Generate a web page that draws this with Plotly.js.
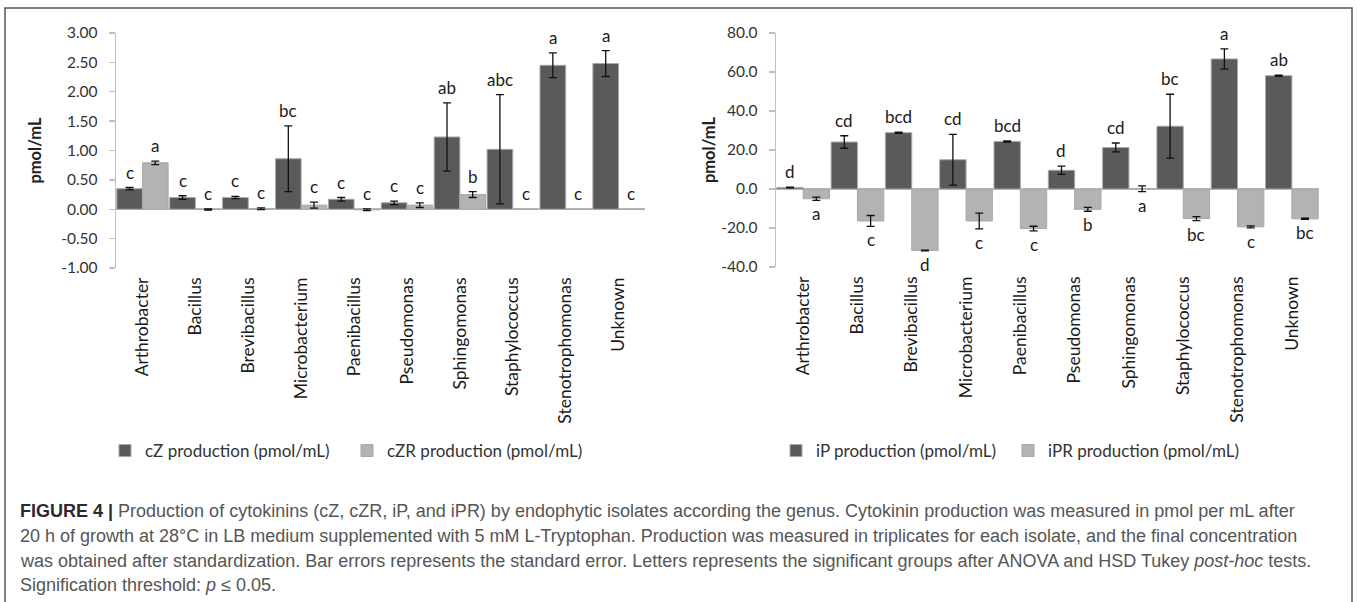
<!DOCTYPE html>
<html><head><meta charset="utf-8">
<script src="https://cdn.plot.ly/plotly-3.0.1.min.js"></script>
<style>html,body{margin:0;padding:0;background:#fff;}#chart{width:1357px;height:602px;}</style>
</head><body><div id="chart"></div>
<script>
const genera = ['Arthrobacter','Bacillus','Brevibacillus','Microbacterium','Paenibacillus','Pseudomonas','Sphingomonas','Staphylococcus','Stenotrophomonas','Unknown'];

const cZ      = [0.35, 0.20, 0.20, 0.86, 0.17, 0.11, 1.23, 1.02, 2.45, 2.48];
const cZErr   = [0.02, 0.03, 0.02, 0.56, 0.03, 0.03, 0.58, 0.93, 0.21, 0.22];
const cZR     = [0.79, -0.005, 0.01, 0.07, -0.01, 0.07, 0.25, 0, 0, 0];
const cZRErr  = [0.03, 0.01, 0.015, 0.05, 0.015, 0.04, 0.05, NaN, NaN, NaN];
const iP      = [0.8, 24.1, 28.9, 15.0, 24.4, 9.6, 21.3, 32.2, 66.7, 58.1];
const iPErr   = [0.2, 3.2, 0.3, 13.0, 0.3, 2.1, 2.3, 16.4, 5.2, 0.3];
const iPR     = [-5.0, -16.4, -31.5, -16.4, -20.3, -10.4, 0.15, -15.2, -19.4, -15.3];
const iPRErr  = [0.8, 2.8, 0.2, 4.0, 1.2, 1.0, 1.5, 1.0, 0.5, 0.3];

const cZLetters  = ['c','c','c','bc','c','c','ab','abc','a','a'];
const cZRLetters = ['a','c','c','c','c','c','b','c','c','c'];
const iPLetters  = ['d','cd','bcd','cd','bcd','d','cd','bc','a','ab'];
const iPRLetters = ['a','c','d','c','c','b','a','bc','c','bc'];

const leftTickVals  = [-1, -0.5, 0, 0.5, 1, 1.5, 2, 2.5, 3];
const leftTickText  = ['-1.00','-0.50','0.00','0.50','1.00','1.50','2.00','2.50','3.00'];
const rightTickVals = [-40, -20, 0, 20, 40, 60, 80];
const rightTickText = ['-40.0','-20.0','0.0','20.0','40.0','60.0','80.0'];

const seriesNames = ['cZ production (pmol/mL)','cZR production (pmol/mL)','iP production (pmol/mL)','iPR production (pmol/mL)'];

const captionLines = [
  '<b><span style="color:#2b2b2b">FIGURE 4 |</span></b> Production of cytokinins (cZ, cZR, iP, and iPR) by endophytic isolates according the genus. Cytokinin production was measured in pmol per mL after',
  '20 h of growth at 28°C in LB medium supplemented with 5 mM L-Tryptophan. Production was measured in triplicates for each isolate, and the final concentration',
  'was obtained after standardization. Bar errors represents the standard error. Letters represents the significant groups after ANOVA and HSD Tukey <i>post-hoc</i> tests.',
  'Signification threshold: <i>p</i> ≤ 0.05.'
];

const W = 1357, H = 602;
const px = v => v / W;
const py = v => 1 - v / H;

const DARK = '#5a5a5a', LIGHT = '#b3b3b3', EDGE = '#a8a8a8';
const FONT = 'Lato, "Open Sans", sans-serif';
const BARGAP = 0.03;
const half = (1 - BARGAP) / 4;

function barTrace(name, y, err, color, xa, ya, legend) {
  return {
    type: 'bar', name: name, x: genera, y: y, xaxis: xa, yaxis: ya, legend: legend,
    marker: {color: color, line: {color: EDGE, width: 1}},
    error_y: {type: 'data', array: err, visible: true, color: '#111', thickness: 1.3, width: 4},
    hoverinfo: 'x+y'
  };
}

const data = [
  barTrace(seriesNames[0], cZ, cZErr, DARK, 'x', 'y', 'legend'),
  barTrace(seriesNames[1], cZR, cZRErr, LIGHT, 'x', 'y', 'legend'),
  barTrace(seriesNames[2], iP, iPErr, DARK, 'x2', 'y2', 'legend2'),
  barTrace(seriesNames[3], iPR, iPRErr, LIGHT, 'x2', 'y2', 'legend2')
];

const annotations = [];
function addLetters(letters, vals, errs, side, xref, yref, below) {
  letters.forEach((t, i) => {
    const e = isNaN(errs[i]) ? 0 : errs[i];
    annotations.push({
      xref: xref, yref: yref, x: i + side * half,
      y: below ? vals[i] - e : vals[i] + e,
      text: t, showarrow: false,
      yanchor: below ? 'top' : 'bottom', yshift: below ? -1 : 3,
      font: {family: FONT, size: 17, color: '#1a1a1a'}
    });
  });
}
addLetters(cZLetters, cZ, cZErr, -1, 'x', 'y', false);
addLetters(cZRLetters, cZR, cZRErr, 1, 'x', 'y', false);
addLetters(iPLetters, iP, iPErr, -1, 'x2', 'y2', false);
addLetters(iPRLetters, iPR, iPRErr, 1, 'x2', 'y2', true);

const capY = [511, 536, 561, 585];
captionLines.forEach((t, i) => {
  annotations.push({
    xref: 'paper', yref: 'paper', x: px(18), y: py(capY[i]), xanchor: 'left', yanchor: 'middle',
    text: t, showarrow: false, align: 'left',
    font: {family: '"Liberation Sans", Arial, sans-serif', size: 18, color: '#555'}
  });
});

const tickFont = {family: FONT, size: 15.5, color: '#333'};
const catFont = {family: FONT, size: 17.5, color: '#1a1a1a'};

function yAxis(domainTop, domainBot, range, vals, text, anchor, standoff) {
  return {
    domain: [py(domainBot), py(domainTop)], range: range, anchor: anchor,
    tickmode: 'array', tickvals: vals, ticktext: text, tickfont: tickFont,
    showline: true, linecolor: '#bfbfbf', linewidth: 1.3,
    ticks: 'outside', ticklen: 6, tickcolor: '#bfbfbf', tickwidth: 1.3,
    ticklabelstandoff: 8,
    showgrid: false, zeroline: true, zerolinecolor: '#bfbfbf', zerolinewidth: 1.6,
    title: {text: '<b>pmol/mL</b>', font: {family: FONT, size: 16.5, color: '#222'}, standoff: standoff},
    fixedrange: true
  };
}
function xAxis(l, r, anchor) {
  return {
    domain: [px(l), px(r)], type: 'category', anchor: anchor,
    showline: false, ticks: '', tickangle: -90, tickfont: catFont,
    ticklabelstandoff: 5, showgrid: false, zeroline: false, fixedrange: true
  };
}

const legendFont = {family: FONT, size: 17, color: '#333'};

const layout = {
  width: W, height: H, margin: {l: 0, r: 0, t: 0, b: 0},
  paper_bgcolor: '#fff', plot_bgcolor: 'rgba(0,0,0,0)',
  barmode: 'group', bargap: BARGAP, bargroupgap: 0,
  xaxis: xAxis(116, 645, 'y'),
  yaxis: yAxis(33, 268, [-1, 3], leftTickVals, leftTickText, 'x', 15),
  xaxis2: xAxis(776, 1319, 'y2'),
  yaxis2: yAxis(33, 267, [-40, 80], rightTickVals, rightTickText, 'x2', 1),
  legend: {x: px(105), y: py(451), xanchor: 'left', yanchor: 'middle', orientation: 'h',
           font: legendFont, entrywidth: 197, entrywidthmode: 'pixels',
           bgcolor: 'rgba(0,0,0,0)', traceorder: 'normal'},
  legend2: {x: px(776), y: py(451), xanchor: 'left', yanchor: 'middle', orientation: 'h',
           font: legendFont, entrywidth: 187, entrywidthmode: 'pixels',
           bgcolor: 'rgba(0,0,0,0)', traceorder: 'normal'},
  annotations: annotations,
  shapes: [{type: 'rect', xref: 'paper', yref: 'paper', x0: px(5), x1: px(1352), y0: py(8), y1: py(640),
            line: {color: '#555', width: 1.5}, fillcolor: 'rgba(0,0,0,0)', layer: 'below'}],
  showlegend: true
};

Plotly.newPlot('chart', data, layout, {displayModeBar: false, staticPlot: true});
</script>
</body></html>
